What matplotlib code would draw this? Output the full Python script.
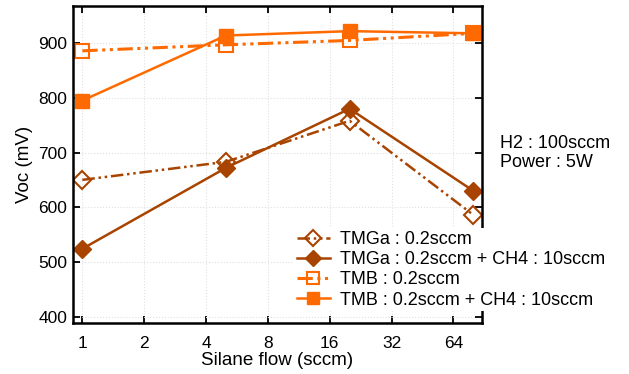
import matplotlib
matplotlib.use("Agg")
import matplotlib.pyplot as plt

plt.rcParams['font.family'] = ['Liberation Sans', 'DejaVu Sans']

silane = [1, 5, 20, 80]
tmga = [650, 683, 758, 586]
tmga_ch4 = [524, 672, 780, 630]
tmb = [886, 897, 905, 918]
tmb_ch4 = [795, 914, 922, 918]

labels = ["TMGa : 0.2sccm", "TMGa : 0.2sccm + CH4 : 10sccm",
          "TMB : 0.2sccm", "TMB : 0.2sccm + CH4 : 10sccm"]
xticks = [1, 2, 4, 8, 16, 32, 64]
yticks = [400, 500, 600, 700, 800, 900]

brown = "#a84400"
orange = "#ff6a00"
dashdotdot = (0, (5, 1.5, 1, 1.5, 1, 1.5))

fig = plt.figure(figsize=(6.29, 3.74), dpi=100)
ax = fig.add_axes([0.116, 0.136, 0.65, 0.848])

ax.plot(silane, tmga, color=brown, lw=1.8, ls=dashdotdot, marker='D',
        ms=9, mfc='none', mew=1.5, label=labels[0])
ax.plot(silane, tmga_ch4, color=brown, lw=1.8, ls='-', marker='D',
        ms=9, mfc=brown, label=labels[1])
ax.plot(silane, tmb, color=orange, lw=2.2, ls=dashdotdot, marker='s',
        ms=10, mfc='none', mew=1.5, label=labels[2])
ax.plot(silane, tmb_ch4, color=orange, lw=1.8, ls='-', marker='s',
        ms=10, mfc=orange, label=labels[3])

ax.set_xscale('log', base=2)
ax.set_xlim(0.9, 88)
ax.set_ylim(388, 968)
ax.set_xticks(xticks)
ax.set_xticklabels([str(t) for t in xticks])
ax.minorticks_off()
ax.set_yticks(yticks)

ax.grid(True, ls=':', color='#e0e0e0', lw=0.8)
ax.tick_params(direction='in', top=True, right=True, length=5, width=1.3,
               labelsize=12.5, pad=4)
ax.tick_params(axis='x', pad=9)
for s in ax.spines.values():
    s.set_linewidth(1.8)

ax.set_xlabel("Silane flow (sccm)", fontsize=13.5, labelpad=1)
ax.set_ylabel("Voc (mV)", fontsize=13.5, labelpad=4)

leg = fig.legend(loc='upper left', bbox_to_anchor=(0.468, 0.39),
                 frameon=True, fontsize=13, handlelength=1.8,
                 handletextpad=0.6, labelspacing=0.18, borderpad=0.15,
                 borderaxespad=0, markerscale=0.85)
leg.get_frame().set_edgecolor('none')
leg.get_frame().set_facecolor('white')
leg.get_frame().set_alpha(1)

fig.text(0.795, 0.59, "H2 : 100sccm\nPower : 5W", fontsize=13,
         va='center', ha='left', linespacing=1.15)

fig.savefig("out.png", dpi=100)
